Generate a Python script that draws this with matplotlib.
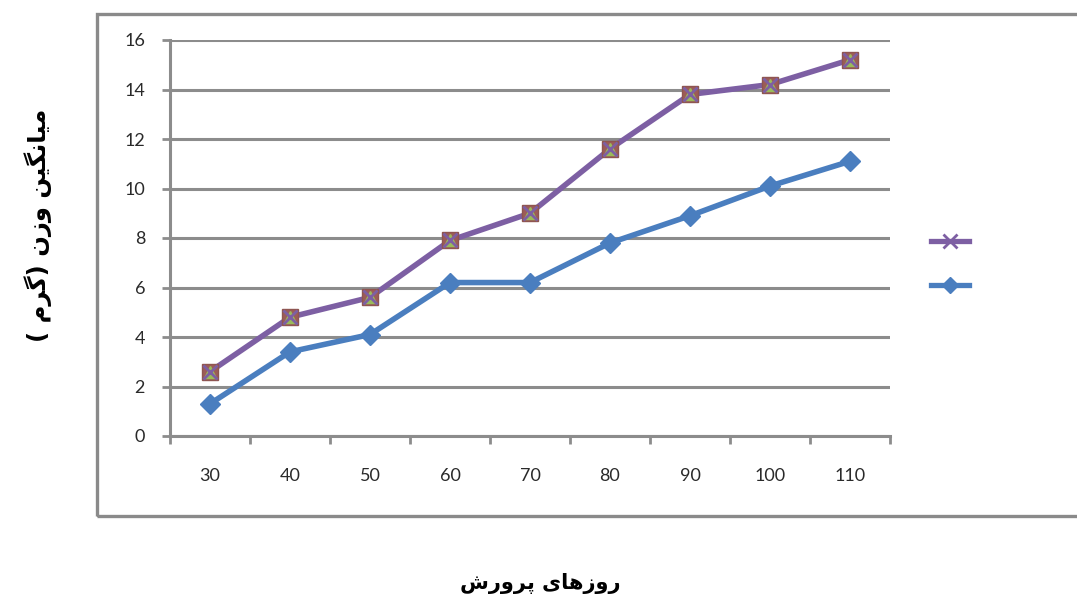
import matplotlib
matplotlib.use("Agg")
import matplotlib.pyplot as plt
from matplotlib.patches import Rectangle
from matplotlib.lines import Line2D

# Rearing days (categories) and mean weight (g) for the two groups
days = [30, 40, 50, 60, 70, 80, 90, 100, 110]
weight_upper = [2.6, 4.8, 5.6, 7.9, 9.0, 11.6, 13.8, 14.2, 15.2]
weight_lower = [1.3, 3.4, 4.1, 6.2, 6.2, 7.8, 8.9, 10.1, 11.1]
y_ticks = [0, 2, 4, 6, 8, 10, 12, 14, 16]

# Persian labels written in visual order with Arabic presentation forms,
# since matplotlib does not shape right-to-left scripts itself.
ylabel_text = "( \uFEE1\uFEAE\uFB94) \uFEE5\uFEAF\uFEED \uFEE6\uFBFF\uFB95\uFEE7\uFE8E\uFBFF\uFEE3"
xlabel_text = "\uFEB5\uFEAD\uFEED\uFEAE\uFB58 \uFBFC\uFE8E\uFEEB\uFEAF\uFEED\uFEAD"

purple = "#7D5FA3"
blue = "#4A7EBF"
grid_gray = "#8C8C8C"

fig = plt.figure(figsize=(10.77, 6.0), dpi=100)
fig.patch.set_facecolor("white")

# Chart-area frame
frame = Rectangle((97 / 1077, 1 - 516 / 600), 1.0, (516 - 14) / 600,
                  transform=fig.transFigure, fill=False,
                  edgecolor="#8A8A8A", linewidth=2.4, clip_on=False)
fig.add_artist(frame)

ax = fig.add_axes([170 / 1077, 1 - 436 / 600, 720 / 1077, 396 / 600])
x = list(range(len(days)))

ax.plot(x, weight_lower, color=blue, linewidth=4.0, marker="D",
        markersize=10, markerfacecolor=blue, markeredgecolor=blue, zorder=3)

ax.plot(x, weight_upper, color=purple, linewidth=4.0, zorder=3)
ax.plot(x, weight_upper, linestyle="none", marker="s", markersize=11.5,
        markerfacecolor="#9C5C58", markeredgecolor="#8F5550", zorder=4)
ax.plot(x, weight_upper, linestyle="none", marker="^", markersize=8,
        markerfacecolor="#9BBB59", markeredgecolor="#9BBB59", zorder=5)
ax.plot(x, weight_upper, linestyle="none", marker="x", markersize=10,
        markeredgewidth=2.0, color=purple, zorder=6)

ax.set_xlim(-0.5, len(days) - 0.5)
ax.set_ylim(0, 16)
ax.set_yticks(y_ticks)
ax.set_xticks(x)
ax.set_xticklabels([str(d) for d in days])
ax.set_xticks([i - 0.5 for i in range(len(days) + 1)], minor=True)

for lbl in ax.get_xticklabels() + ax.get_yticklabels():
    lbl.set_fontfamily("Lato")
    lbl.set_fontsize(13)
    lbl.set_color("#2A2A2A")

ax.tick_params(axis="x", which="major", length=0, pad=23)
ax.tick_params(axis="x", which="minor", length=6, width=2, color=grid_gray,
               direction="out")
ax.tick_params(axis="y", length=6, width=2, color=grid_gray, pad=12)

ax.yaxis.grid(True, color=grid_gray, linewidth=2.2)
ax.set_axisbelow(True)
for side in ("top", "right"):
    ax.spines[side].set_visible(False)
for side in ("left", "bottom"):
    ax.spines[side].set_color(grid_gray)
    ax.spines[side].set_linewidth(2.2)

# Legend markers without text
handles = [
    Line2D([], [], color=purple, linewidth=3.8, marker="x", markersize=10,
           markeredgewidth=2.0),
    Line2D([], [], color=blue, linewidth=3.8, marker="D", markersize=8),
]
fig.legend(handles, ["", ""], loc="center", frameon=False,
           bbox_to_anchor=(950 / 1077, 1 - 264 / 600), handlelength=2.8,
           labelspacing=2.2, handletextpad=0)

fig.text(38 / 1077, 1 - 225 / 600, ylabel_text, rotation=90, ha="center",
         va="center", fontsize=17.5, fontweight="bold", family=["DejaVu Sans"])
fig.text(540 / 1077, 1 - 584 / 600, xlabel_text, ha="center", va="center",
         fontsize=15, fontweight="bold", family=["DejaVu Sans"])

fig.savefig("out.png", dpi=100, facecolor="white")
